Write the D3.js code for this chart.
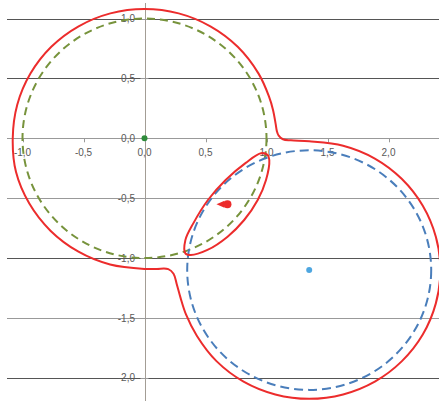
<!DOCTYPE html>
<html>
<head>
<meta charset="utf-8">
<script src="https://cdn.jsdelivr.net/npm/d3@7"></script>
<style>
  body { margin: 0; background: #fff; }
  svg { display: block; }
</style>
</head>
<body>
<svg id="chart"></svg>
<script>
const width = 439;
const height = 401;

// tick values and their labels (comma decimals, as in the source)
const xTicks = [-1, -0.5, 0, 0.5, 1, 1.5, 2];
const xTickLabels = ["-1,0", "-0,5", "0,0", "0,5", "1,0", "1,5", "2,0"];
const yTicks = [1, 0.5, 0, -0.5, -1, -1.5, -2];
const yTickLabels = ["1,0", "0,5", "0,0", "-0,5", "-1,0", "-1,5", "-2,0"];
const gridDark = [true, true, false, false, true, false, true];

// two dashed circles: [cx, cy, r]
const circleGreen = [0, 0, 1];
const circleBlue = [1.35, -1.1, 1];

// points
const pointGreen = [0, 0];
const pointBlue = [1.35, -1.1];
const pointRed = [0.68, -0.55];

// red outer contour
const redOuter = [
  [-1.08, 0], [-1.043, 0.28], [-0.935, 0.54], [-0.764, 0.764], [-0.54, 0.935],
  [-0.28, 1.043], [0, 1.08], [0.28, 1.043], [0.54, 0.935], [0.764, 0.764],
  [0.935, 0.54], [1.02, 0.35], [1.054, 0.235], [1.075, 0.12], [1.085, 0.06],
  [1.1, 0.022], [1.135, -0.008], [1.2, -0.017], [1.35, -0.025], [1.628, -0.062],
  [1.888, -0.169], [2.11, -0.34], [2.281, -0.563], [2.388, -0.822], [2.425, -1.1],
  [2.388, -1.378], [2.281, -1.638], [2.11, -1.86], [1.888, -2.031], [1.628, -2.138],
  [1.35, -2.175], [1.072, -2.138], [0.812, -2.031], [0.59, -1.86], [0.43, -1.65],
  [0.34, -1.47], [0.295, -1.33], [0.265, -1.22], [0.238, -1.13], [0.195, -1.092],
  [0.1, -1.09], [0, -1.09], [-0.282, -1.053], [-0.545, -0.944], [-0.771, -0.771],
  [-0.944, -0.545], [-1.053, -0.282]
];

// red inner loop between the circles
const redLens = [
  [1.01, -0.139], [1.023, -0.181], [0.996, -0.348], [0.928, -0.515], [0.817, -0.682],
  [0.681, -0.821], [0.516, -0.932], [0.379, -0.974], [0.335, -0.96], [0.335, -0.85],
  [0.4, -0.71], [0.52, -0.515], [0.665, -0.348], [0.83, -0.205], [0.955, -0.125]
];

const svg = d3.select("#chart").attr("width", width).attr("height", height);

const x = d3.scaleLinear().domain([-1, 2]).range([22.5, 388.5]);
const y = d3.scaleLinear().domain([-2, 1]).range([377.9, 18.5]);

// horizontal gridlines
svg.append("g")
  .selectAll("line")
  .data(yTicks)
  .join("line")
  .attr("x1", 7)
  .attr("x2", width)
  .attr("y1", (d) => Math.round(y(d)) + 0.5)
  .attr("y2", (d) => Math.round(y(d)) + 0.5)
  .attr("stroke", (d, i) => (gridDark[i] ? "#555" : "#999"))
  .attr("stroke-width", 1);

// vertical axis line
svg.append("line")
  .attr("x1", Math.round(x(0)) + 0.5)
  .attr("x2", Math.round(x(0)) + 0.5)
  .attr("y1", 3)
  .attr("y2", height)
  .attr("stroke", "#a39d95")
  .attr("stroke-width", 1);

// y tick marks
svg.append("g")
  .selectAll("line")
  .data(yTicks)
  .join("line")
  .attr("x1", x(0) - 4)
  .attr("x2", x(0) + 4)
  .attr("y1", (d) => Math.round(y(d)) + 0.5)
  .attr("y2", (d) => Math.round(y(d)) + 0.5)
  .attr("stroke", "#999");

// x tick marks
svg.append("g")
  .selectAll("line")
  .data(xTicks)
  .join("line")
  .attr("x1", (d) => Math.round(x(d)) + 0.5)
  .attr("x2", (d) => Math.round(x(d)) + 0.5)
  .attr("y1", y(0))
  .attr("y2", y(0) + 4)
  .attr("stroke", "#999");

// tick labels
const labelFont = "'Liberation Sans', Arial, sans-serif";
svg.append("g")
  .selectAll("text")
  .data(yTicks)
  .join("text")
  .attr("x", 135)
  .attr("y", (d) => y(d))
  .attr("dy", "0.35em")
  .attr("text-anchor", "end")
  .attr("font-family", labelFont)
  .attr("font-size", 10)
  .attr("fill", "#595959")
  .text((d, i) => yTickLabels[i]);

svg.append("g")
  .selectAll("text")
  .data(xTicks)
  .join("text")
  .attr("x", (d) => x(d))
  .attr("y", y(0) + 14)
  .attr("dy", "0.35em")
  .attr("text-anchor", "middle")
  .attr("font-family", labelFont)
  .attr("font-size", 10)
  .attr("fill", "#595959")
  .text((d, i) => xTickLabels[i]);

// dashed circles
const circles = [
  { c: circleGreen, color: "#77933c", dash: "8,5" },
  { c: circleBlue, color: "#4a7ebb", dash: "9,5" },
];
svg.append("g")
  .selectAll("ellipse")
  .data(circles)
  .join("ellipse")
  .attr("cx", (d) => x(d.c[0]))
  .attr("cy", (d) => y(d.c[1]))
  .attr("rx", (d) => x(d.c[2]) - x(0))
  .attr("ry", (d) => y(0) - y(d.c[2]))
  .attr("fill", "none")
  .attr("stroke", (d) => d.color)
  .attr("stroke-width", 2)
  .attr("stroke-dasharray", (d) => d.dash);

// red contour
const line = d3
  .line()
  .x((d) => x(d[0]))
  .y((d) => y(d[1]))
  .curve(d3.curveCatmullRomClosed.alpha(0.5));

svg.append("g")
  .selectAll("path")
  .data([redOuter, redLens])
  .join("path")
  .attr("d", line)
  .attr("fill", "none")
  .attr("stroke", "#ec2c2c")
  .attr("stroke-width", 2);

// points
svg.append("circle")
  .attr("cx", x(pointGreen[0]))
  .attr("cy", y(pointGreen[1]))
  .attr("r", 3)
  .attr("fill", "#2e8b3a");

svg.append("circle")
  .attr("cx", x(pointBlue[0]))
  .attr("cy", y(pointBlue[1]))
  .attr("r", 3)
  .attr("fill", "#4ea6e0");

const rx = x(pointRed[0]);
const ry = y(pointRed[1]);
svg.append("path")
  .attr("d", `M${rx - 11},${ry} L${rx - 3},${ry - 3.5} L${rx - 3},${ry + 3.5} Z`)
  .attr("fill", "#ec2c2c");
svg.append("circle")
  .attr("cx", rx)
  .attr("cy", ry)
  .attr("r", 4)
  .attr("fill", "#ec2c2c");
</script>
</body>
</html>
